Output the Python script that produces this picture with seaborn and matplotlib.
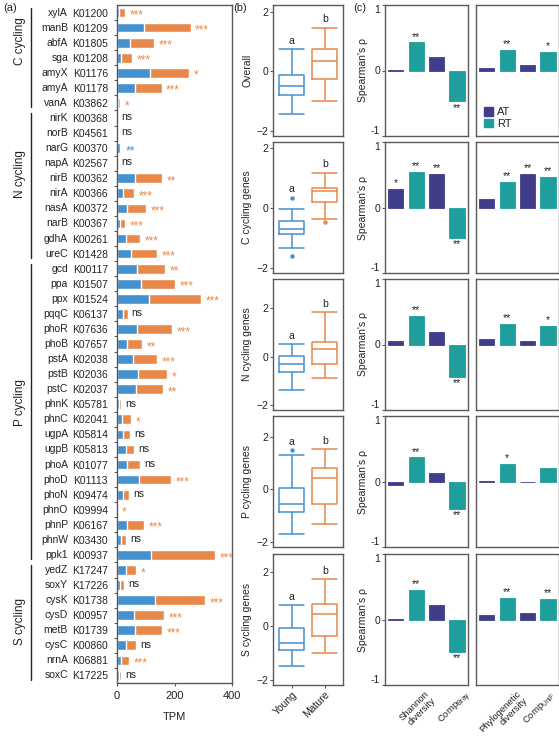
import numpy as np
import pandas as pd
import matplotlib
matplotlib.use("Agg")
import matplotlib.pyplot as plt
import matplotlib.transforms as mtransforms
from matplotlib.patches import Patch
import seaborn as sns

# --- (a) gene abundance, TPM (blue = young, orange = mature) ---
genes = ["xylA", "manB", "abfA", "sga", "amyX", "amyA", "vanA",
         "nirK", "norB", "narG", "napA", "nirB", "nirA", "nasA", "narB", "gdhA", "ureC",
         "gcd", "ppa", "ppx", "pqqC", "phoR", "phoB", "pstA", "pstB", "pstC", "phnK",
         "phnC", "ugpA", "ugpB", "phoA", "phoD", "phoN", "phnO", "phnP", "phnW", "ppk1",
         "yedZ", "soxY", "cysK", "cysD", "metB", "cysC", "nrnA", "soxC"]
kos = ["K01200", "K01209", "K01805", "K01208", "K01176", "K01178", "K03862",
       "K00368", "K04561", "K00370", "K02567", "K00362", "K00366", "K00372", "K00367", "K00261", "K01428",
       "K00117", "K01507", "K01524", "K06137", "K07636", "K07657", "K02038", "K02036", "K02037", "K05781",
       "K02041", "K05814", "K05813", "K01077", "K01113", "K09474", "K09994", "K06167", "K03430", "K00937",
       "K17247", "K17226", "K01738", "K00957", "K01739", "K00860", "K06881", "K17225"]
young_tpm = [8, 95, 44, 14, 115, 63, 2,
             0, 0, 12, 0, 63, 21, 35, 9, 30, 49,
             70, 82, 110, 20, 70, 35, 56, 73, 65, 8,
             19, 22, 30, 36, 78, 22, 0.5, 35, 14, 117,
             31, 10, 131, 58, 63, 31, 13, 6]
mature_tpm = [21, 161, 84, 37, 137, 92, 8,
              0, 0, 1, 0, 95, 38, 65, 18, 50, 89,
              98, 120, 182, 17, 121, 52, 82, 101, 94, 6,
              29, 23, 30, 45, 109, 21, 0.5, 59, 17, 224,
              34, 14, 176, 105, 95, 35, 28, 8]
gene_sig = ["***", "***", "***", "***", "*", "***", "*",
            "ns", "ns", "**", "ns", "**", "***", "***", "***", "***", "***",
            "**", "***", "***", "ns", "***", "**", "***", "*", "**", "ns",
            "*", "ns", "ns", "ns", "***", "ns", "*", "***", "ns", "***",
            "*", "ns", "***", "***", "***", "ns", "***", "ns"]
gene_groups = [("C cycling", 0, 6), ("N cycling", 7, 16),
               ("P cycling", 17, 36), ("S cycling", 37, 44)]

# --- (b) standardized abundance by age (whisker/quartile/outlier points) ---
ages = ["Young", "Mature"]
box_panels = ["Overall", "C cycling genes", "N cycling genes", "P cycling genes", "S cycling genes"]
overall_young = [-1.42, -1.42, -0.81, -0.81, -0.49, -0.13, -0.13, 0.73, 0.73]
overall_mature = [-1.00, -1.00, -0.25, -0.25, 0.35, 0.76, 0.76, 1.46, 1.46]
c_young = [-1.58, -1.33, -0.87, -0.87, -0.69, -0.42, -0.42, -0.03, 0.35]
c_mature = [-0.47, -0.36, 0.22, 0.22, 0.58, 0.67, 0.67, 1.19, 1.19]
n_young = [-1.37, -1.37, -0.63, -0.63, -0.29, 0.03, 0.03, 0.53, 0.53]
n_mature = [-0.90, -0.90, -0.32, -0.32, 0.33, 0.62, 0.62, 1.85, 1.85]
p_young = [-1.71, -1.71, -0.86, -0.86, -0.57, 0.03, 0.03, 1.28, 1.47]
p_mature = [-1.31, -1.31, -0.58, -0.58, 0.44, 0.80, 0.80, 1.51, 1.51]
s_young = [-1.48, -1.48, -0.87, -0.87, -0.61, -0.05, -0.05, 0.79, 0.79]
s_mature = [-1.01, -1.01, -0.36, -0.36, 0.44, 0.81, 0.81, 1.76, 1.76]
box_letters = ["a", "b"]

# --- (c) Spearman's rho with community metrics ---
shannon_at = [0.01, 0.29, 0.05, -0.05, 0.01]
shannon_rt = [0.43, 0.54, 0.44, 0.37, 0.45]
bray_at = [0.20, 0.51, 0.195, 0.13, 0.22]
bray_rt = [-0.47, -0.46, -0.50, -0.42, -0.49]
pd_at = [0.04, 0.125, 0.09, 0.01, 0.07]
pd_rt = [0.31, 0.39, 0.32, 0.27, 0.33]
unif_at = [0.08, 0.51, 0.05, -0.01, 0.10]
unif_rt = [0.28, 0.47, 0.28, 0.21, 0.31]
shannon_at_sig = ["", "*", "", "", ""]
shannon_rt_sig = ["**", "**", "**", "**", "**"]
bray_at_sig = ["", "**", "", "", ""]
bray_rt_sig = ["**", "**", "**", "**", "**"]
pd_at_sig = ["", "", "", "", ""]
pd_rt_sig = ["**", "**", "**", "*", "**"]
unif_at_sig = ["", "**", "", "", ""]
unif_rt_sig = ["*", "**", "*", "", "**"]

BLUE = "#4591d0"
ORANGE = "#e8894a"
AT_COL = "#403d8b"
RT_COL = "#1f9e9e"
SPINE = "#5a5a5a"
TXT = "#222222"

sns.set_theme(style="white")
plt.rcParams["font.family"] = ["Liberation Sans", "DejaVu Sans"]
plt.rcParams["mathtext.fontset"] = "custom"
plt.rcParams["mathtext.rm"] = "Liberation Sans"
plt.rcParams["mathtext.it"] = "Liberation Sans"
plt.rcParams["font.size"] = 7
plt.rcParams["text.color"] = TXT
plt.rcParams["axes.labelcolor"] = TXT
plt.rcParams["xtick.color"] = TXT
plt.rcParams["ytick.color"] = TXT

W, H = 559, 739
fig = plt.figure(figsize=(W / 100, H / 100), dpi=100)


def px_axes(left, top, width, height):
    return fig.add_axes([left / W, 1 - (top + height) / H, width / W, height / H])


def style_box(ax):
    for sp in ax.spines.values():
        sp.set_visible(True)
        sp.set_color(SPINE)
        sp.set_linewidth(1.0)
    ax.tick_params(length=2, width=0.8, color=SPINE, labelsize=7.5, pad=1.5)


# ---------- (a) ----------
ax_a = px_axes(117, 5, 115, 678)
df_a = pd.DataFrame({"gene": genes, "young": young_tpm, "mature": mature_tpm})
df_a["total"] = df_a["young"] + df_a["mature"]
sns.barplot(data=df_a, x="total", y="gene", orient="h", color=ORANGE, width=0.65,
            saturation=1, errorbar=None, ax=ax_a)
sns.barplot(data=df_a, x="young", y="gene", orient="h", color=BLUE, width=0.65,
            saturation=1, errorbar=None, ax=ax_a)
n = len(genes)
ax_a.set_xlim(0, 400)
ax_a.set_ylim(n - 0.5, -0.5)
ax_a.set_xticks([0, 200, 400])
ax_a.set_yticks(range(n))
ax_a.set_yticklabels(kos)
ax_a.set_yticks(np.arange(0.5, n - 1, 1), minor=True)
style_box(ax_a)
ax_a.tick_params(axis="y", which="major", length=0, pad=6.5, labelsize=7.5)
ax_a.tick_params(axis="y", which="minor", left=True, length=2.5, width=0.8, color=SPINE)
ax_a.tick_params(axis="x", bottom=True, labelsize=8, pad=4)
ax_a.set_xlabel("TPM", fontsize=8, labelpad=8)
ax_a.set_ylabel("")
trans_a = mtransforms.blended_transform_factory(ax_a.transAxes, ax_a.transData)
for i, (g, tot, s) in enumerate(zip(genes, df_a["total"], gene_sig)):
    ax_a.text(-0.426, i, g, transform=trans_a, ha="right", va="center", fontsize=7.5)
    if s == "ns":
        ax_a.text(tot + 14, i - 0.05, s, ha="left", va="center", fontsize=7.5, color=TXT)
    else:
        col = BLUE if g == "narG" else ORANGE
        ax_a.text(tot + 16, i + 0.2, s, ha="left", va="center", fontsize=8.5, color=col)
label_shift = {"C cycling": -1.1, "N cycling": -0.8, "P cycling": -0.6, "S cycling": -0.1}
for name, a, b in gene_groups:
    ax_a.plot([-0.748, -0.748], [max(a - 0.3, -0.45), b + 0.3], transform=trans_a,
              color=TXT, lw=1.0, clip_on=False)
    ax_a.text(-0.845, (a + b) / 2 + label_shift[name], name, transform=trans_a,
              rotation=90, ha="center", va="center", fontsize=8.5)

# ---------- (b) ----------
tops = [5, 142, 279, 416, 554]
box_data = [(overall_young, overall_mature), (c_young, c_mature), (n_young, n_mature),
            (p_young, p_mature), (s_young, s_mature)]
box_ylims = [(-2.17, 2.22), (-2.16, 2.21), (-2.2, 3.2), (-2.2, 2.78), (-2.18, 2.68)]
for k, (name, (yv, mv)) in enumerate(zip(box_panels, box_data)):
    ax = px_axes(273, tops[k], 70, 131)
    df_b = pd.DataFrame({"age": ["Young"] * len(yv) + ["Mature"] * len(mv), "value": yv + mv})
    sns.boxplot(data=df_b, x="age", y="value", hue="age", order=ages, hue_order=ages,
                palette={"Young": BLUE, "Mature": ORANGE}, fill=False, width=0.75,
                linewidth=1.1, fliersize=2.5, legend=False, capwidths=0.75, ax=ax)
    for ln in ax.get_lines():
        if ln.get_marker() not in ("None", None, ""):
            ln.set_marker("o")
            ln.set_markerfacecolor(ln.get_markeredgecolor())
            ln.set_markersize(2.2)
    for i, vals in enumerate([yv, mv]):
        ax.text(i, max(vals) + 0.12, box_letters[i], ha="center", va="bottom", fontsize=7.5)
    ax.set_xlim(-0.57, 1.55)
    ax.set_ylim(*box_ylims[k])
    ax.set_yticks([-2, 0, 2])
    style_box(ax)
    ax.tick_params(axis="y", left=True)
    ax.set_ylabel(name, fontsize=7.5, labelpad=3)
    ax.set_xlabel("")
    if k == len(box_panels) - 1:
        ax.tick_params(axis="x", bottom=True, length=2)
        ax.set_xticks([0, 1])
        ax.set_xticklabels(ages, rotation=45, ha="right", rotation_mode="anchor", fontsize=7.5)
    else:
        ax.set_xticks([])

# ---------- (c) ----------
cols = [(385, shannon_at, shannon_rt, bray_at, bray_rt,
         shannon_at_sig, shannon_rt_sig, bray_at_sig, bray_rt_sig,
         ["Shannon\ndiversity", r"Comp$_{\mathrm{Bray}}$"], [1.4, 3.4]),
        (476, pd_at, pd_rt, unif_at, unif_rt,
         pd_at_sig, pd_rt_sig, unif_at_sig, unif_rt_sig,
         ["Phylogenetic\ndiversity", r"Comp$_{\mathrm{UniF}}$"], [1.45, 3.05])]
for c, (left, a1, r1, a2, r2, sa1, sr1, sa2, sr2, xlabels, xpos) in enumerate(cols):
    for k in range(5):
        ax = px_axes(left, tops[k], 82.5, 131)
        vals = [a1[k], r1[k], a2[k], r2[k]]
        sigs = [sa1[k], sr1[k], sa2[k], sr2[k]]
        df_c = pd.DataFrame({"pos": ["0", "1", "2", "3"], "rho": vals,
                             "type": ["AT", "RT", "AT", "RT"]})
        sns.barplot(data=df_c, x="pos", y="rho", hue="type", dodge=False, width=0.75,
                    palette={"AT": AT_COL, "RT": RT_COL}, saturation=1, legend=False,
                    errorbar=None, ax=ax)
        for p in ax.patches:
            p.set_edgecolor(p.get_facecolor())
            p.set_linewidth(0.6)
        for i, (v, s) in enumerate(zip(vals, sigs)):
            if s:
                if v >= 0:
                    ax.text(i, v + 0.01, s, ha="center", va="bottom", fontsize=7.5)
                else:
                    ax.text(i, v - 0.02, s, ha="center", va="top", fontsize=7.5)
        ax.set_xlim(-0.53, 3.51)
        ax.set_ylim(-1, 1)
        style_box(ax)
        ax.set_xlabel("")
        if c == 0:
            ax.set_yticks([-1, 0, 1])
            ax.set_yticklabels(["-1", "0", "1"])
            tl = ax.get_yticklabels()
            tl[0].set_va("bottom")
            tl[2].set_va("top")
            ax.tick_params(axis="y", left=True)
            ax.set_ylabel("Spearman's ρ", fontsize=7.5, labelpad=2)
        else:
            ax.set_yticks([])
            ax.set_ylabel("")
        if k == 4:
            ax.set_xticks(xpos)
            ax.set_xticklabels(xlabels, rotation=45, ha="right", va="top",
                               rotation_mode="anchor", fontsize=6.8, linespacing=1.0)
            ax.tick_params(axis="x", bottom=False, pad=1)
        else:
            ax.set_xticks([])
        if c == 1 and k == 0:
            handles = [Patch(color=AT_COL, label="AT"), Patch(color=RT_COL, label="RT")]
            ax.legend(handles=handles, loc="lower left", bbox_to_anchor=(0.04, 0.02),
                      frameon=False, fontsize=8, handlelength=0.8, handleheight=0.8,
                      handletextpad=0.4, labelspacing=0.15, borderaxespad=0)

fig.text(3 / W, 1 - 8 / H, "(a)", fontsize=8, va="center")
fig.text(233 / W, 1 - 8 / H, "(b)", fontsize=8, va="center")
fig.text(353 / W, 1 - 8 / H, "(c)", fontsize=8, va="center")

fig.savefig("out.png", dpi=100)
